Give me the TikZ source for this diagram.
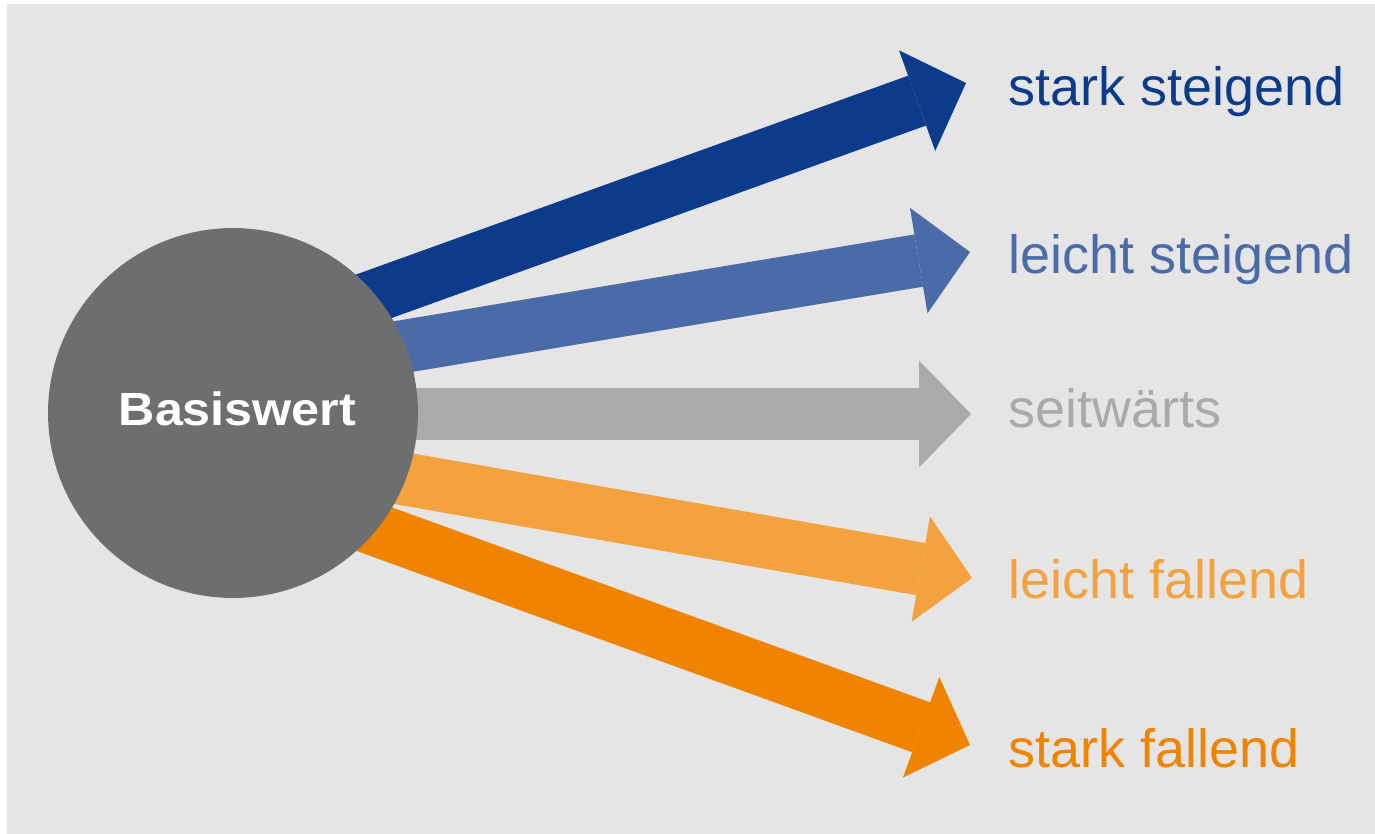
\documentclass[tikz,border=0pt]{standalone}
\usepackage{fontspec}
\setmainfont{Liberation Sans}
\usepackage{xcolor}
\usepackage{tikz}
\usetikzlibrary{arrows.meta}

\definecolor{darkblue}{RGB}{13,59,139}
\definecolor{lightblue}{RGB}{74,107,167}
\definecolor{sidegray}{RGB}{170,170,170}
\definecolor{lightorange}{RGB}{243,162,62}
\definecolor{darkorange}{RGB}{240,131,0}
\definecolor{basegray}{RGB}{109,110,112}
\definecolor{panelgray}{RGB}{229,229,229}

\tikzset{
  trend/.style={line width=1.06cm, line cap=butt,
    -{Triangle[length=1.04cm, width=2.14cm, line width=0pt]}},
  trendlabel/.style={anchor=base west, inner sep=0pt,
    font=\fontsize{30.7pt}{36pt}\selectfont},
}

\begin{document}
\begin{tikzpicture}[x=0.02cm, y=-0.02cm]
	\useasboundingbox (0,0) rectangle (1375,834);
	\fill[white] (0,0) rectangle (1375,834);
	\fill[panelgray] (7,4) rectangle (1375,834);
	%
	\node[trendlabel, text=darkblue] (up2) at (1008,105.7) {stark steigend};
	\node[trendlabel, text=lightblue] (up1) at (1008,274) {leicht steigend};
	\node[trendlabel, text=sidegray] (flat) at (1008,427) {seitwärts};
	\node[trendlabel, text=lightorange] (down1) at (1008,598) {leicht fallend};
	\node[trendlabel, text=darkorange] (down2) at (1008,767) {stark fallend};
	%
	\coordinate (s1) at (233,347);
	\coordinate (s2) at (233,375);
	\coordinate (s3) at (233,414);
	\coordinate (s4) at (233,449);
	\coordinate (s5) at (233,478);
	\coordinate (t1) at (966,83);
	\coordinate (t2) at (970,252);
	\coordinate (t3) at (971,414);
	\coordinate (t4) at (972,578);
	\coordinate (t5) at (970,745);
	%
	\draw[trend, darkblue] (s1) -- (t1);
	\draw[trend, lightblue] (s2) -- (t2);
	\draw[trend, sidegray] (s3) -- (t3);
	\draw[trend, lightorange] (s4) -- (t4);
	\draw[trend, darkorange] (s5) -- (t5);
	%
	\node[circle, fill=basegray, inner sep=0pt, minimum size=7.4cm] (base) at (233,413) {};
	\node[anchor=base, inner sep=0pt, text=white,
	  font=\fontsize{26.5pt}{32pt}\selectfont\bfseries] (basetext) at (237.5,425)
	  {\scalebox{1.08}[1]{Basiswert}};
\end{tikzpicture}
\end{document}
